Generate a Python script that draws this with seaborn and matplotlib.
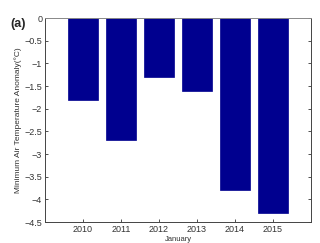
import matplotlib
matplotlib.use("Agg")
import matplotlib.pyplot as plt
import seaborn as sns
import pandas as pd

years = ["2010", "2011", "2012", "2013", "2014", "2015"]
anomaly = [-1.8, -2.7, -1.3, -1.6, -3.8, -4.3]
yticks = [0, -0.5, -1, -1.5, -2, -2.5, -3, -3.5, -4, -4.5]

sns.set_style("white")
plt.rcParams['font.family'] = ['Liberation Sans', 'DejaVu Sans']

df = pd.DataFrame({"year": years, "anomaly": anomaly})

fig = plt.figure(figsize=(3.2, 2.43), dpi=100)
ax = fig.add_axes([45/320, 1 - 222/243, (311-45)/320, (222-18)/243])
sns.barplot(data=df, x="year", y="anomaly", color="#00008F", saturation=1,
            width=0.8, ax=ax, edgecolor="#00008F", linewidth=0.5)
ax.set_xlim(-1.0, 6.0)
ax.set_ylim(-4.5, 0)
ax.set_yticks(yticks)
ax.set_yticklabels([("%g" % v).replace("-", "\u2212") for v in yticks])
ax.tick_params(axis="both", direction="in", length=2.5, width=0.6, labelsize=6.5,
               colors="#333333", right=True, bottom=True, left=True, top=False, pad=2)
ax.tick_params(axis="y", labelright=False)
for s in ax.spines.values():
    s.set_visible(True)
    s.set_color("#444444")
    s.set_linewidth(0.7)
ax.spines["top"].set_color("#888888")
ax.set_xlabel("January", fontsize=5.5, labelpad=1.5, color="#333333")
ax.set_ylabel("Minimum Air Temperature Anomaly(\u00b0C)", fontsize=6, color="#333333", labelpad=2)
fig.text(10/320, 1 - 24/243, "(a)", fontsize=9, fontweight="bold", va="center", ha="left")
fig.savefig("out.png", dpi=100)
